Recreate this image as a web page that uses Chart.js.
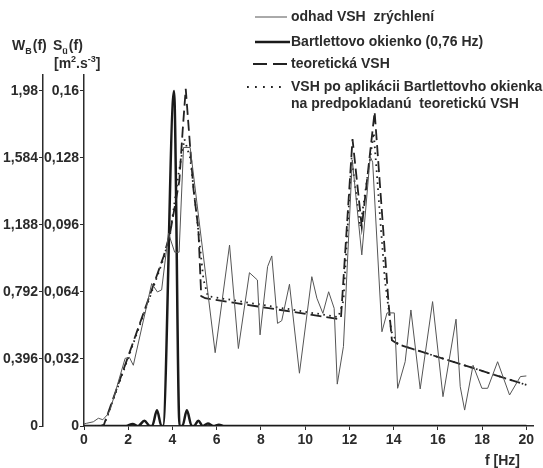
<!DOCTYPE html>
<html>
<head>
<meta charset="utf-8">
<script src="https://cdn.jsdelivr.net/npm/chart.js@4.4.1/dist/chart.umd.min.js"></script>
<style>
  html, body { margin: 0; padding: 0; background: #fff; }
  #wrap { width: 543px; height: 468px; position: relative; }
</style>
</head>
<body>
<div id="wrap"><canvas id="chart-vsh"></canvas></div>
<script>
// frequency axis [Hz]
const freqTicks = [0, 2, 4, 6, 8, 10, 12, 14, 16, 18, 20];
const freqMax = 20.3;

// S_ü(f) axis [m2.s-3] and W_B(f) axis
const sTicks = [0, 0.032, 0.064, 0.096, 0.128, 0.16];
const sTickLabels = ['0', '0,032', '0,064', '0,096', '0,128', '0,16'];
const wTicks = [0, 0.396, 0.792, 1.188, 1.584, 1.98];
const wTickLabels = ['0', '0,396', '0,792', '1,188', '1,584', '1,98'];
const sMax = 0.1676;
const wPerS = 12.375;

// odhad VSH zrýchlení (estimate)
const estFreq = [0, 0.12, 0.42, 0.65, 0.85, 1.05, 1.18, 1.86, 2.05, 2.23, 3.06, 3.32, 3.51, 3.82, 4.1, 4.3, 4.5, 4.8,
    5.93, 6.58, 6.98, 7.48, 7.84, 7.96, 8.3, 8.49, 8.75, 8.94, 9.29, 9.74, 10.3, 10.53, 10.8, 11.06, 11.31, 11.45,
    11.73, 12.13, 12.56, 12.94, 13.05, 13.47, 13.7, 14.03, 14.18, 14.52, 14.78, 15.2, 15.76, 16.23, 16.82, 17.01,
    17.21, 17.59, 17.99, 18.25, 18.7, 19.24, 19.73, 20.0];
const estVal = [0.001, 0.0013, 0.002, 0.0037, 0.003, 0.0053, 0.0076, 0.0323, 0.0328, 0.029, 0.068, 0.064, 0.065, 0.092,
    0.083, 0.083, 0.133, 0.133, 0.035, 0.0864, 0.037, 0.0732, 0.0697, 0.0435, 0.0761, 0.0812, 0.049, 0.0503, 0.0677,
    0.0252, 0.0713, 0.061, 0.0538, 0.0641, 0.0562, 0.02, 0.038, 0.127, 0.0817, 0.1286, 0.126, 0.045, 0.054, 0.054,
    0.018, 0.0307, 0.0554, 0.0177, 0.0594, 0.014, 0.051, 0.0188, 0.0076, 0.029, 0.018, 0.018, 0.0307, 0.0148, 0.0236,
    0.0239];

// Bartlettovo okienko (0,76 Hz), W_B units
const bartFreq = [0, 1.9, 2.2, 2.45, 2.73, 2.98, 3.08, 3.3, 3.5, 3.57, 4.07, 4.32, 4.45, 4.65, 4.87, 4.97, 5.17, 5.37,
    5.6, 5.85, 6.1, 6.35, 20.0];
const bartVal = [0, 0, 0.012, 0, 0.031, 0, 0, 0.093, 0, 0, 1.98, 0, 0, 0.093, 0, 0, 0.031, 0, 0.015, 0, 0.008, 0, 0];

// teoretická VSH
const theoFreq = [0, 0.88, 3.6, 3.89, 4.31, 4.46, 4.6, 4.8, 4.95, 5.17, 5.3, 5.48, 11.55, 11.62, 12.14, 12.56, 13.14,
    13.77, 13.92, 14.2, 20.0];
const theoVal = [0, 0, 0.081, 0.092, 0.117, 0.141, 0.161, 0.133, 0.113, 0.094, 0.062, 0.061, 0.051, 0.052, 0.137,
    0.095, 0.15, 0.0586, 0.041, 0.039, 0.0196];

// VSH po aplikácii Bartlettovho okienka
const convFreq = [0, 0.8, 1.0, 3.6, 3.9, 4.27, 4.54, 4.8, 5.1, 5.4, 5.6, 11.5, 11.73, 12.1, 12.49, 13.1, 13.6, 13.9,
    14.2, 20.0];
const convVal = [0, 0, 0.003, 0.08, 0.092, 0.12, 0.137, 0.128, 0.1, 0.07, 0.062, 0.052, 0.06, 0.128, 0.095, 0.14,
    0.07, 0.045, 0.039, 0.0196];

const legendLabels = [
    'odhad VSH  zrýchlení',
    'Bartlettovo okienko (0,76 Hz)',
    'teoretická VSH',
    'VSH po aplikácii Bartlettovho okienka',
    'na predpokladanú  teoretickú VSH',
];

const FONT = '"Liberation Sans", Arial, Helvetica, sans-serif';
const INK = '#2b2b2b';

const toPoints = (xs, ys) => xs.map((x, i) => ({ x, y: ys[i] }));

function drawRuns(c, x, y, runs) {
    let cx = x;
    for (const r of runs) {
        const size = r.sub || r.sup ? 9 : 14;
        c.font = `bold ${size}px ${FONT}`;
        const dy = r.sub ? 4 : r.sup ? -6 : 0;
        c.fillText(r.t, cx, y + dy);
        cx += c.measureText(r.t).width + (r.gap || 0);
    }
}

const annotationPlugin = {
    id: 'vshLegendTitles',
    afterDraw(chart) {
        const c = chart.ctx;
        c.save();
        c.fillStyle = INK;
        c.textBaseline = 'alphabetic';
        // axis titles
        drawRuns(c, 12, 50, [{ t: 'W' }, { t: 'B', sub: true, gap: 1 }, { t: '(f)' }]);
        drawRuns(c, 53, 50, [{ t: 'S' }, { t: 'ü', sub: true, gap: 1 }, { t: '(f)' }]);
        drawRuns(c, 54, 68, [{ t: '[m' }, { t: '2', sup: true }, { t: '.s' }, { t: '-3', sup: true }, { t: ']' }]);
        c.font = `bold 14px ${FONT}`;
        c.fillText('f [Hz]', 485, 465);

        // legend
        const rows = [17, 42, 64, 87, 104];
        c.font = `bold 14px ${FONT}`;
        c.textBaseline = 'middle';
        legendLabels.forEach((t, i) => c.fillText(t, 291, rows[i]));
        const samples = [
            { w: 1, dash: [], x0: 255, x1: 287, col: '#555' },
            { w: 2.5, dash: [], x0: 255, x1: 290, col: '#1a1a1a' },
            { w: 1.8, dash: [14, 6], x0: 253, x1: 288, col: '#222' },
            { w: 1.8, dash: [1.8, 6.2], x0: 247, x1: 287, col: '#222' },
        ];
        samples.forEach((s, i) => {
            c.beginPath();
            c.lineWidth = s.w;
            c.strokeStyle = s.col;
            c.setLineDash(s.dash);
            c.moveTo(s.x0, rows[i]);
            c.lineTo(s.x1, rows[i]);
            c.stroke();
        });
        c.restore();
    },
};

const tickFont = { family: FONT, size: 14, weight: 'bold' };

new Chart(document.getElementById('chart-vsh').getContext('2d'), {
    type: 'line',
    data: {
        datasets: [
            {
                label: legendLabels[0],
                data: toPoints(estFreq, estVal),
                borderColor: '#555',
                borderWidth: 1,
                yAxisID: 'y',
            },
            {
                label: legendLabels[2],
                data: toPoints(theoFreq, theoVal),
                borderColor: '#222',
                borderWidth: 1.8,
                borderDash: [11, 5],
                yAxisID: 'y',
            },
            {
                label: legendLabels[3],
                data: toPoints(convFreq, convVal),
                borderColor: '#222',
                borderWidth: 1.8,
                borderDash: [1.6, 4.4],
                yAxisID: 'y',
            },
            {
                label: legendLabels[1],
                data: toPoints(bartFreq, bartVal),
                borderColor: '#1a1a1a',
                borderWidth: 2.5,
                cubicInterpolationMode: 'monotone',
                yAxisID: 'yW',
            },
        ],
    },
    plugins: [annotationPlugin],
    options: {
        responsive: true,
        maintainAspectRatio: false,
        animation: false,
        elements: { point: { radius: 0 }, line: { tension: 0, fill: false } },
        layout: { padding: { top: 75, right: 10, bottom: 0, left: 0 } },
        plugins: { legend: { display: false }, tooltip: { enabled: false } },
        scales: {
            x: {
                type: 'linear',
                min: 0,
                max: freqMax,
                afterBuildTicks: s => { s.ticks = freqTicks.map(v => ({ value: v })); },
                afterFit: s => { s.height = 42; },
                ticks: { font: tickFont, color: INK, padding: 2, maxRotation: 0, callback: v => String(v) },
                grid: { drawOnChartArea: false, drawTicks: true, tickLength: 4, color: INK, lineWidth: 1 },
                border: { color: INK, width: 1.5 },
            },
            y: {
                position: 'left',
                weight: 0,
                min: 0,
                max: sMax,
                afterBuildTicks: s => { s.ticks = sTicks.map(v => ({ value: v })); },
                afterFit: s => { s.width = 41; },
                ticks: { font: tickFont, color: INK, padding: 1, callback: (v, i) => sTickLabels[i] },
                grid: { drawOnChartArea: false, drawTicks: true, tickLength: 4, color: INK, lineWidth: 1 },
                border: { color: INK, width: 1.5 },
            },
            yW: {
                position: 'left',
                weight: 1,
                min: 0,
                max: sMax * wPerS,
                afterBuildTicks: s => { s.ticks = wTicks.map(v => ({ value: v })); },
                afterFit: s => { s.width = 43; },
                ticks: { font: tickFont, color: INK, padding: 1, callback: (v, i) => wTickLabels[i] },
                grid: { drawOnChartArea: false, drawTicks: true, tickLength: 4, color: INK, lineWidth: 1 },
                border: { color: INK, width: 1.5 },
            },
        },
    },
});
</script>
</body>
</html>
